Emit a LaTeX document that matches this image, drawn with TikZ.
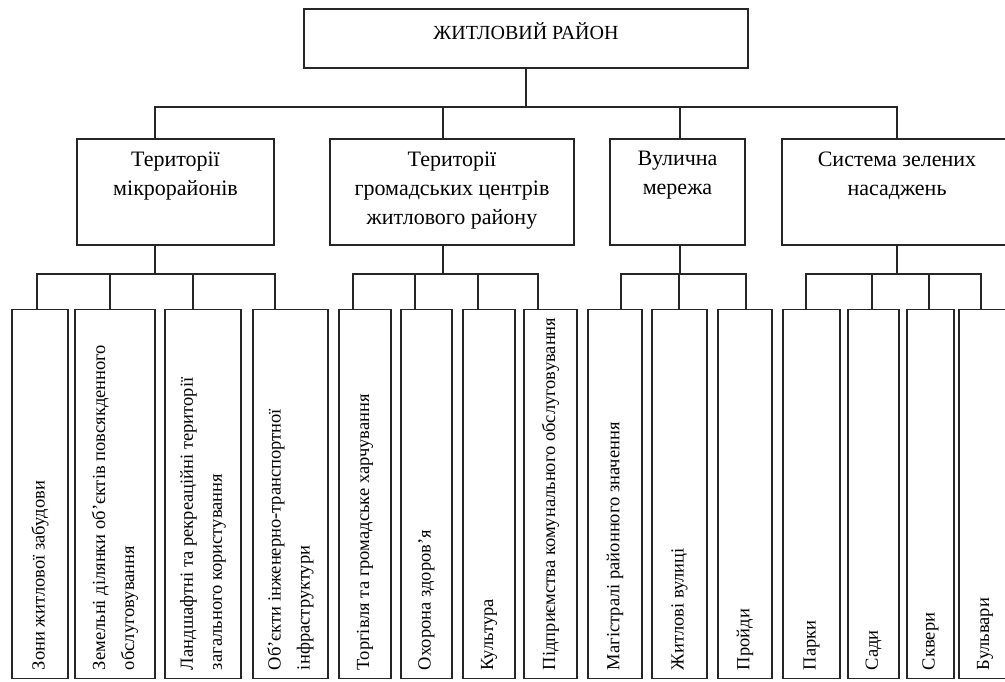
\documentclass[tikz,border=0pt]{standalone}
\usepackage{fontspec}
\setmainfont{Liberation Serif}
\usetikzlibrary{positioning}

\tikzset{
  boxline/.style={draw=black!85, line width=1.4pt, inner sep=0pt},
  topbox/.style={boxline, minimum width=444pt, minimum height=59pt},
  groupbox/.style={boxline, minimum height=106pt},
  leafbox/.style={boxline, minimum height=369pt},
  conn/.style={draw=black!85, line width=1.3pt},
  headtext/.style={inner sep=0pt, font=\fontsize{20}{24}\selectfont},
  grouptext/.style={inner sep=0pt, align=center, anchor=north, font=\fontsize{22}{29}\selectfont},
  leaftext/.style={inner sep=0pt, rotate=90, anchor=west, align=left, font=\fontsize{18.5}{29}\selectfont}
}

\begin{document}
\begin{tikzpicture}[x=1pt, y=-1pt]
  \clip (0,0) rectangle (1005,681);
  \fill[white] (0,0) rectangle (1005,681);

  % top level
  \node[topbox] (top) at (526,38.5) {};
  \node[headtext] (top-t) at ([yshift=-23pt]top.north) {ЖИТЛОВИЙ РАЙОН};

  % second level
  \node[groupbox, minimum width=197pt] (mikro) at (175.5,192) {};
  \node[groupbox, minimum width=244pt] (centr) at (452,192) {};
  \node[groupbox, minimum width=135pt] (vul) at (677.5,192) {};
  \node[groupbox, minimum width=230pt] (zel) at (897,192) {};

  \node[grouptext] (mikro-t) at ([yshift=-13pt]mikro.north) {Території\\мікрорайонів};
  \node[grouptext] (centr-t) at ([yshift=-13pt]centr.north) {Території\\громадських центрів\\житлового району};
  \node[grouptext] (vul-t) at ([yshift=-13pt]vul.north) {Вулична\\мережа};
  \node[grouptext] (zel-t) at ([yshift=-13pt]zel.north) {Система зелених\\насаджень};

  % leaves
  \foreach \name/\cx/\w in {zony/40/56, zemel/115/80, land/203/76, obj/290.5/75,
      torg/365/52, ohor/426.5/51, kult/489/52, pidpr/550.5/53,
      magis/615/54, zhytl/679.5/55, proizd/745/54,
      parky/811.5/57, sady/873.5/51, skvery/930.5/47, bulv/985/52}
    \node[leafbox, minimum width=\w pt] (\name) at (\cx,494) {};

  \foreach \name/\txt in {zony/{Зони житлової забудови},
      zemel/{Земельні ділянки об’єктів повсякденного\\обслуговування},
      land/{Ландшафтні та рекреаційні території\\загального користування},
      obj/{Об’єкти інженерно-транспортної\\інфраструктури},
      torg/{Торгівля та громадське харчування},
      ohor/{Охорона здоров’я},
      kult/{Культура},
      pidpr/{Підприємства комунального обслуговування},
      magis/{Магістралі районного значення},
      zhytl/{Житлові вулиці},
      proizd/{Пройди},
      parky/{Парки}, sady/{Сади}, skvery/{Сквери}, bulv/{Бульвари}}
    \node[leaftext] (\name-t) at ([yshift=9pt]\name.south) {\txt};

  % connectors
  \coordinate (hub) at (526,107);
  \coordinate (hubA) at (155,274);
  \coordinate (hubB) at (443,274);
  \coordinate (hubC) at (680,274);
  \coordinate (hubD) at (897,274);

  \draw[conn] (top.south) -- (hub);
  \foreach \name/\dx in {mikro/-20.5, centr/-9, vul/2.5, zel/0}
    \draw[conn] ([xshift=\dx pt]\name.north) |- (hub);

  \draw[conn] ([xshift=-20.5pt]mikro.south) -- (hubA);
  \draw[conn] ([xshift=-9pt]centr.south) -- (hubB);
  \draw[conn] ([xshift=2.5pt]vul.south) -- (hubC);
  \draw[conn] (zel.south) -- (hubD);

  \foreach \name/\dx/\hb in {zony/-3/hubA, zemel/-5/hubA, land/-10/hubA, obj/-15.5/hubA,
      torg/-12/hubB, ohor/-11.5/hubB, kult/-11/hubB, pidpr/-12.5/hubB,
      magis/6/hubC, zhytl/-0.5/hubC, proizd/1/hubC,
      parky/-5.5/hubD, sady/-1.5/hubD, skvery/-1.5/hubD, bulv/-4/hubD}
    \draw[conn] ([xshift=\dx pt]\name.north) |- (\hb);
\end{tikzpicture}
\end{document}
